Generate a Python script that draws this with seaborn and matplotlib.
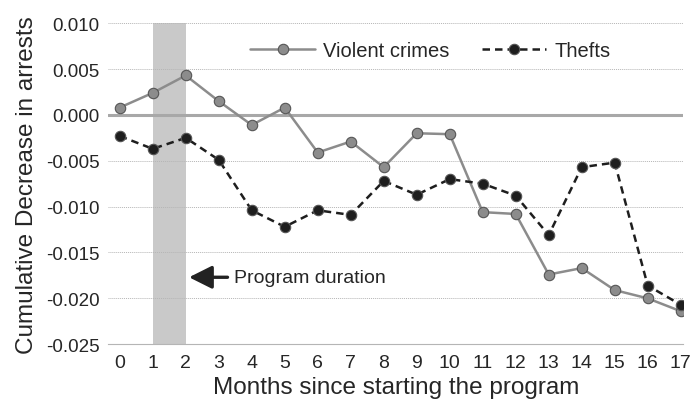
import numpy as np
import pandas as pd
import matplotlib
matplotlib.use("Agg")
import matplotlib.pyplot as plt
import seaborn as sns

# data (tilt corrected)
months = list(range(18))
violent = [0.0008, 0.0024, 0.0043, 0.0015, -0.0011, 0.0008, -0.0041, -0.0029, -0.0057,
           -0.0020, -0.0021, -0.0106, -0.0108, -0.0174, -0.0167, -0.0191, -0.0200, -0.0214]
thefts = [-0.0023, -0.0037, -0.0025, -0.0049, -0.0104, -0.0122, -0.0104, -0.0109, -0.0072,
          -0.0087, -0.0070, -0.0075, -0.0088, -0.0131, -0.0057, -0.0052, -0.0186, -0.0207]
y_ticks = [0.010, 0.005, 0.000, -0.005, -0.010, -0.015, -0.020, -0.025]
program_months = (1, 2)

df = pd.DataFrame({"month": months * 2,
                   "value": violent + thefts,
                   "series": ["Violent crimes"] * 18 + ["Thefts"] * 18})

sns.set_style("white")
plt.rcParams["font.family"] = ["Liberation Sans", "DejaVu Sans"]

fig = plt.figure(figsize=(6.98, 4.10), dpi=100)
ax = fig.add_axes([0.155, 0.158, 0.824, 0.783])

# program duration band
ax.axvspan(program_months[0], program_months[1], color="#c9c9c9", zorder=0, lw=0)

# gridlines
for t in y_ticks:
    if t == 0:
        ax.axhline(t, color="#a8a8a8", lw=2.2, zorder=1)
    else:
        ax.axhline(t, color="#b5b5b5", lw=0.7, ls=(0, (1, 1)), zorder=1)

sns.lineplot(data=df, x="month", y="value", hue="series", style="series",
             palette={"Violent crimes": "#8c8c8c", "Thefts": "#1e1e1e"},
             dashes={"Violent crimes": "", "Thefts": (3, 2)},
             markers={"Violent crimes": "o", "Thefts": "o"},
             markersize=7.5, markeredgecolor="#555555", markeredgewidth=0.8,
             linewidth=1.8, ax=ax, zorder=3)

ax.set_xlim(-0.35, 17.08)
ax.set_ylim(-0.025, 0.010)
ax.set_xticks(months)
ax.set_xticklabels([str(m) for m in months], fontsize=14)
ax.set_yticks(y_ticks)
ax.set_yticklabels([f"{t:.3f}" for t in y_ticks], fontsize=13.5)
ax.tick_params(axis="y", length=0, pad=6)
ax.tick_params(axis="x", length=0, pad=7)
for s in ["left", "right", "top"]:
    ax.spines[s].set_visible(False)
ax.spines["bottom"].set_color("#b5b5b5")
ax.spines["bottom"].set_linewidth(0.8)

ax.set_xlabel("Months since starting the program", fontsize=17.5, labelpad=4)
ax.set_ylabel("Cumulative Decrease in arrests", fontsize=17.5, labelpad=6)

ax.annotate("Program duration", xy=(2.1, -0.0177), xytext=(3.45, -0.0177),
            fontsize=14, va="center", ha="left",
            arrowprops=dict(arrowstyle="-|>,head_length=1.0,head_width=0.5",
                            color="#222222", lw=2.4, shrinkA=2, shrinkB=0))

leg = ax.legend(loc="upper center", bbox_to_anchor=(0.56, 1.0), ncol=2, frameon=False,
                fontsize=14.5, handlelength=3.2, columnspacing=1.6, handletextpad=0.4)
for h in leg.legend_handles:
    h.set_markeredgecolor("#555555")

fig.savefig("out.png", dpi=100)
